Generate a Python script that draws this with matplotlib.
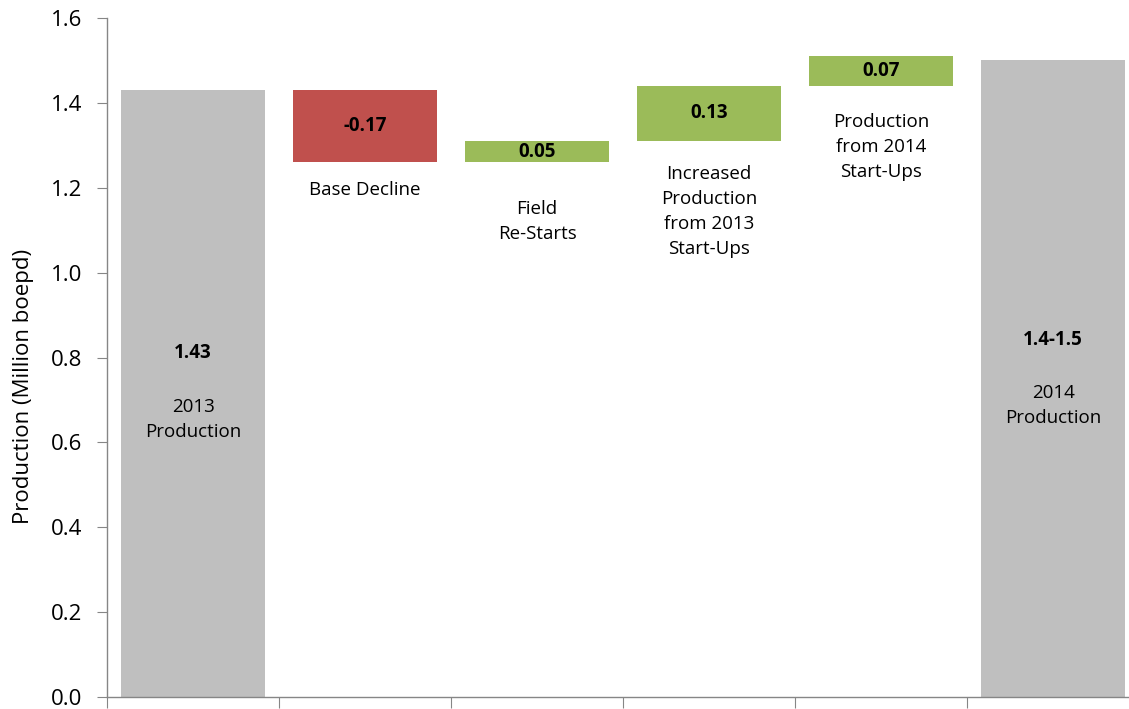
import matplotlib.pyplot as plt

plt.rcParams["font.family"] = ["Open Sans", "DejaVu Sans"]

# waterfall: 2013 production, changes, 2014 production (million boepd)
start_value = 1.43
start_label = "1.43"
change_values = [-0.17, 0.05, 0.13, 0.07]
change_labels = ["-0.17", "0.05", "0.13", "0.07"]
change_names = ["Base Decline", "Field\nRe-Starts",
                "Increased\nProduction\nfrom 2013\nStart-Ups",
                "Production\nfrom 2014\nStart-Ups"]
end_value = 1.5
end_label = "1.4-1.5"
end_name = "2014\nProduction"
start_name = "2013\nProduction"
yticks = [0.0, 0.2, 0.4, 0.6, 0.8, 1.0, 1.2, 1.4, 1.6]

GREY = "#BFBFBF"
RED = "#C0504D"
GREEN = "#9BBB59"
AXIS = "#868686"

fig = plt.figure(figsize=(11.29, 7.09), dpi=100)
ax = fig.add_axes([0.0948, 0.0169, 0.9142, 0.9577])

width = 0.84
n = len(change_values) + 2
fs = 13.5

# totals
ax.bar(0, start_value, width=width, color=GREY)
ax.bar(n - 1, end_value, width=width, color=GREY)

# floating change bars
level = start_value
for i, v in enumerate(change_values):
    bottom = level + min(v, 0)
    color = RED if v < 0 else GREEN
    ax.bar(i + 1, abs(v), bottom=bottom, width=width, color=color)
    ax.text(i + 1, bottom + abs(v) / 2, change_labels[i], ha="center",
            va="center", fontsize=fs, fontweight="bold")
    level += v

# category names under the floating bars
name_y = [1.195, 1.12, 1.143, 1.296]
for i, name in enumerate(change_names):
    ax.text(i + 1, name_y[i], name, ha="center", va="center",
            fontsize=fs, linespacing=1.5)

ax.text(0, 0.81, start_label, ha="center", va="center",
        fontsize=fs, fontweight="bold")
ax.text(0, 0.653, start_name, ha="center", va="center",
        fontsize=fs, linespacing=1.5)
ax.text(n - 1, 0.841, end_label, ha="center", va="center",
        fontsize=fs, fontweight="bold")
ax.text(n - 1, 0.688, end_name, ha="center", va="center",
        fontsize=fs, linespacing=1.5)

ax.set_xlim(-0.5, n - 0.5)
ax.set_ylim(0, 1.6)
ax.set_yticks(yticks)
ax.set_yticklabels([f"{t:.1f}" for t in yticks])
ax.set_xticks([i - 0.5 for i in range(n)])
ax.set_xticklabels([])
ax.tick_params(axis="y", labelsize=16, length=7, color=AXIS, pad=11)
ax.tick_params(axis="x", length=8, color=AXIS)
ax.set_ylabel("Production (Million boepd)", fontsize=16)
ax.yaxis.set_label_coords(-0.071, 0.457)

for side in ["top", "right"]:
    ax.spines[side].set_visible(False)
for side in ["left", "bottom"]:
    ax.spines[side].set_color(AXIS)
    ax.spines[side].set_linewidth(1)

fig.savefig("out.png", dpi=100)
